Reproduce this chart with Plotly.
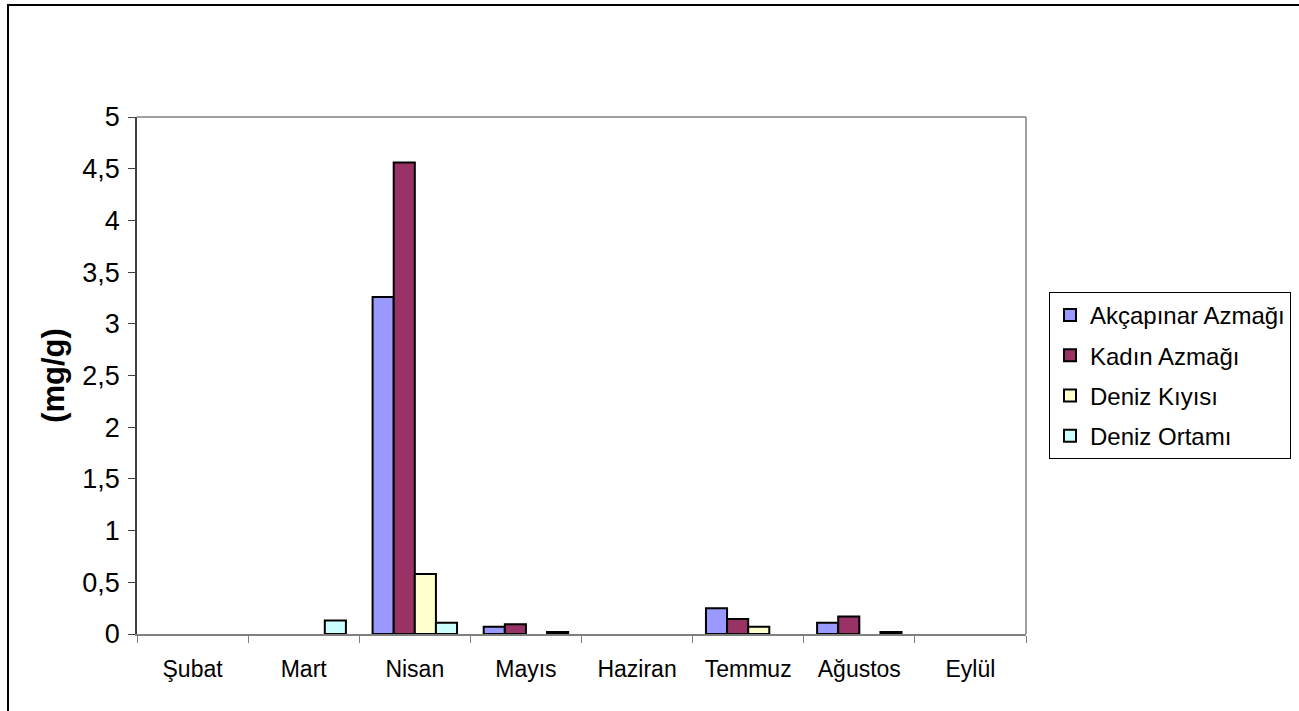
import plotly.graph_objects as go

months = ["Şubat", "Mart", "Nisan", "Mayıs", "Haziran", "Temmuz", "Ağustos", "Eylül"]
akcapinar = [0, 0, 3.26, 0.07, 0, 0.25, 0.11, 0]
kadin = [0, 0, 4.56, 0.095, 0, 0.145, 0.17, 0]
kiyi = [0, 0, 0.58, 0, 0, 0.07, 0, 0]
ortam = [0, 0.13, 0.11, 0.02, 0, 0, 0.02, 0]

names = ["Akçapınar Azmağı", "Kadın Azmağı", "Deniz Kıyısı", "Deniz Ortamı"]
colors = ["#9999FF", "#993366", "#FFFFCC", "#CCFFFF"]
series = [akcapinar, kadin, kiyi, ortam]

fig = go.Figure()
for nm, col, vals in zip(names, colors, series):
    # zero values are drawn as no bar (no outline), as in the original
    shown = [v if v > 0 else None for v in vals]
    fig.add_trace(go.Bar(
        x=months, y=shown, name=nm, legendgroup=nm,
        marker=dict(color=col, line=dict(color="black", width=2)),
    ))

L, R, T, B = 137, 1026, 117, 634
W, H = 1299, 711

def px(x):
    return (x - L) / (R - L)

def py(y):
    return (B - y) / (B - T)

fig.update_layout(
    width=W, height=H,
    margin=dict(l=L, r=W - R, t=T, b=H - B, autoexpand=False),
    paper_bgcolor="white", plot_bgcolor="white",
    barmode="group", bargap=0.24, bargroupgap=0,
    font=dict(family="Liberation Sans, Arial, sans-serif", color="black"),
    showlegend=True,
    legend=dict(
        x=px(1049), y=py(292), xanchor="left", yanchor="top",
        bordercolor="black", borderwidth=1, bgcolor="white",
        font=dict(size=24), tracegroupgap=6, traceorder="grouped",
        itemwidth=30,
    ),
    xaxis=dict(
        showline=True, linecolor="#808080", linewidth=1.5,
        ticks="outside", tickson="boundaries", ticklen=7, tickcolor="#808080",
        tickfont=dict(size=23), ticklabelstandoff=14,
        mirror=False, showgrid=False,
    ),
    yaxis=dict(
        range=[0, 5], dtick=0.5, showline=True, linecolor="#404040", linewidth=1.5,
        ticks="outside", ticklen=7, tickcolor="#404040", showgrid=False,
        tickfont=dict(size=27), ticklabelstandoff=3,
        title=dict(text="<b>(mg/g)</b>", font=dict(size=31), standoff=8),
        zeroline=False,
    ),
    separators=",.",
)

# plot area gray border (top and right)
fig.add_shape(type="line", xref="paper", yref="paper", x0=0, x1=1, y0=1, y1=1,
              line=dict(color="#808080", width=1.5))
fig.add_shape(type="line", xref="paper", yref="paper", x0=1, x1=1, y0=0, y1=1,
              line=dict(color="#808080", width=1.5))
# outer chart border
fig.add_shape(type="rect", xref="paper", yref="paper",
              x0=px(8), x1=px(1320), y0=py(5), y1=py(730),
              line=dict(color="black", width=2), layer="below")

fig.write_html("out.html")
